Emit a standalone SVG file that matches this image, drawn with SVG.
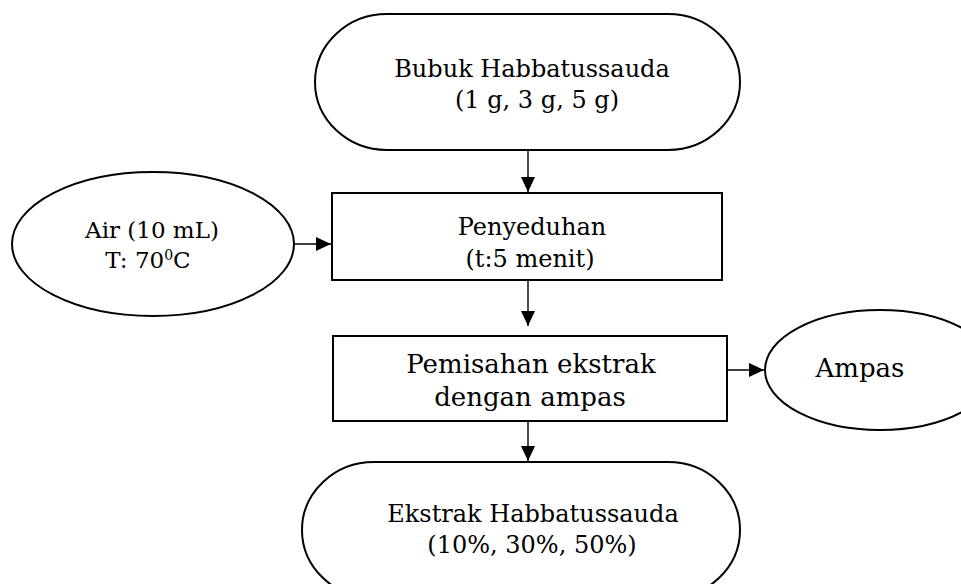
<svg xmlns="http://www.w3.org/2000/svg" width="961" height="584" viewBox="0 0 961 584">
<defs>
<marker id="ah" markerWidth="15" markerHeight="14" refX="15" refY="7" orient="auto" markerUnits="userSpaceOnUse">
<path d="M0,0 L15,7 L0,14 Z" fill="#000"/>
</marker>
<style>
.s{fill:#fff;stroke:#000;stroke-width:2}
.t{font-family:"DejaVu Serif","Liberation Serif",serif;font-size:24px;fill:#000;text-anchor:middle}
.a{font-family:"DejaVu Serif","Liberation Serif",serif;font-size:23px;fill:#000;text-anchor:middle}
.b{font-family:"DejaVu Serif","Liberation Serif",serif;font-size:26px;fill:#000;text-anchor:middle}
.c{stroke:#000;stroke-width:1.4;fill:none;marker-end:url(#ah)}
</style>
</defs>
<rect width="961" height="584" fill="#fff"/>
<g id="connectors">
<line class="c" x1="528" y1="150" x2="528" y2="192"/>
<line class="c" x1="294" y1="244" x2="331" y2="244"/>
<line class="c" x1="528" y1="280" x2="528" y2="326"/>
<line class="c" x1="727" y1="370" x2="764" y2="370"/>
<line class="c" x1="528" y1="421" x2="528" y2="461"/>
</g>
<g id="bubuk">
<rect class="s" x="315" y="14" width="425" height="136" rx="72" ry="68"/>
<text class="t" x="532" y="77">Bubuk Habbatussauda</text>
<text class="t" x="537" y="108">(1 g, 3 g, 5 g)</text>
</g>
<g id="air">
<ellipse class="s" cx="153" cy="244" rx="141" ry="72"/>
<text class="a" x="152" y="238">Air (10 mL)</text>
<text class="a" x="148" y="268">T: 70<tspan font-size="14" dy="-8">0</tspan><tspan dy="8">C</tspan></text>
</g>
<g id="penyeduhan">
<rect class="s" x="332" y="193" width="390" height="87"/>
<text class="t" x="532" y="235">Penyeduhan</text>
<text class="t" x="530" y="267">(t:5 menit)</text>
</g>
<g id="pemisahan">
<rect class="s" x="333" y="336" width="394" height="85"/>
<text class="b" x="531" y="373">Pemisahan ekstrak</text>
<text class="b" x="530" y="406">dengan ampas</text>
</g>
<g id="ampas">
<ellipse class="s" cx="880" cy="370" rx="115" ry="60"/>
<text class="b" x="860" y="377">Ampas</text>
</g>
<g id="ekstrak">
<rect class="s" x="302" y="462" width="438" height="136" rx="72" ry="68"/>
<text class="t" x="533" y="522">Ekstrak Habbatussauda</text>
<text class="t" x="532" y="553">(10%, 30%, 50%)</text>
</g>
</svg>
